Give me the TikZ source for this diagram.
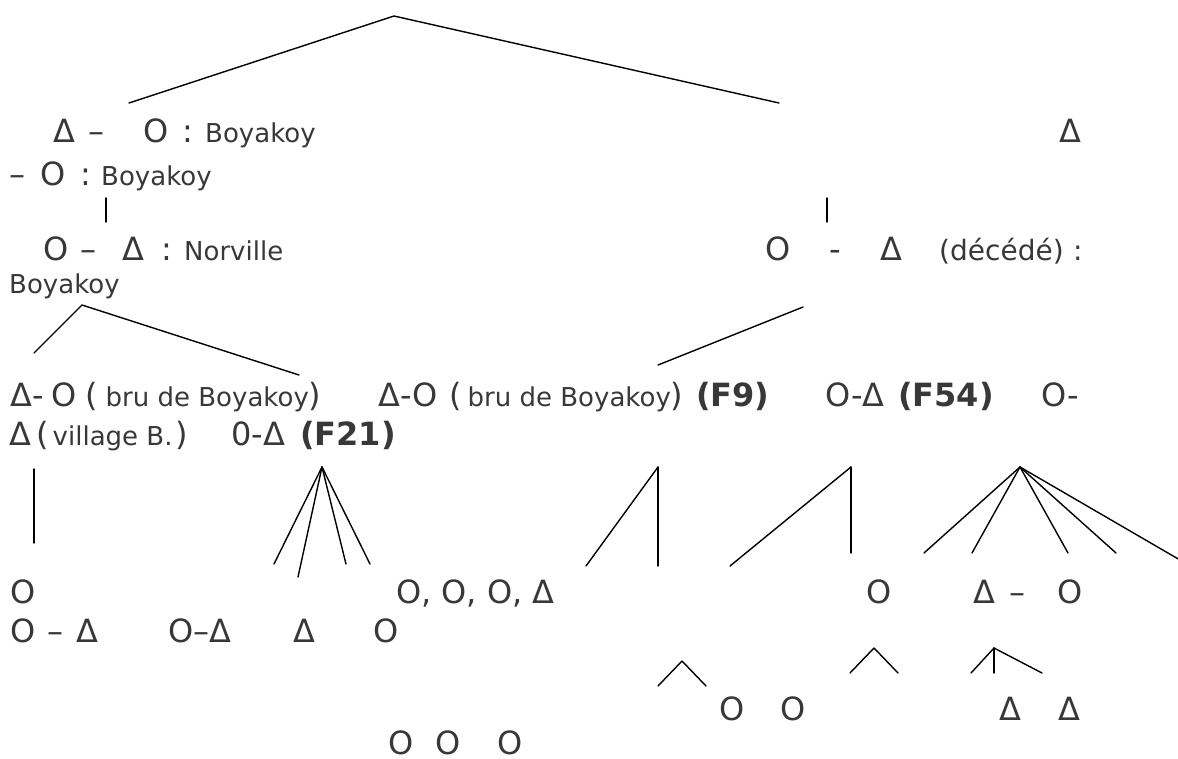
\documentclass[tikz,border=0pt]{standalone}
\usepackage{fontspec}
\setmainfont{DejaVu Sans}
\definecolor{ink}{HTML}{383838}
\newcommand\smtxt[1]{{\fontsize{26}{31}\selectfont #1}}
\tikzset{
  lg/.style={anchor=base west, inner sep=0pt, text=ink, font=\fontsize{32}{38}\selectfont},
  sm/.style={lg, font=\fontsize{26}{31}\selectfont},
  md/.style={lg, font=\fontsize{28}{33}\selectfont},
  bd/.style={lg, font=\fontsize{32}{38}\selectfont\bfseries},
  link/.style={line width=1.4pt, black, line cap=round},
}
\begin{document}
\begin{tikzpicture}[x=1pt,y=-1pt]
\useasboundingbox (0,0) rectangle (1178,758);

% ---- first generation
\node[lg] (a1) at (53,142) {Δ};
\node[lg] (a2) at (88,142) {–};
\node[lg] (a3) at (143,142) {O};
\node[lg] (a4) at (182,142) {:};
\node[sm] (a5) at (205,142) {Boyakoy};
\node[lg] (a6) at (1059,142) {Δ};
\node[lg] (b1) at (9,185) {–};
\node[lg] (b2) at (40,185) {O};
\node[lg] (b3) at (80,185) {:};
\node[sm] (b4) at (101,185) {Boyakoy};

% ---- second generation
\node[lg] (c1) at (43,260) {O};
\node[lg] (c2) at (80,260) {–};
\node[lg] (c3) at (122,260) {Δ};
\node[lg] (c4) at (161,260) {:};
\node[sm] (c5) at (184,260) {Norville};
\node[lg] (c6) at (765,260) {O};
\node[lg] (c7) at (829,260) {-};
\node[lg] (c8) at (880,260) {Δ};
\node[md] (c9) at (939,260) {(décédé)};
\node[md] (c10) at (1073,260) {:};
\node[sm] (d1) at (9,293) {Boyakoy};

% ---- third generation
\node[lg] (e1) at (10,406) {Δ-};
\node[lg] (e2) at (51,406) {O};
\node[lg] (e3) at (85,406) {(\hspace{8pt}\smtxt{bru de Boyakoy})};
\node[lg] (e6) at (378,406) {Δ-O};
\node[lg] (e7) at (449,406) {(\hspace{6pt}\smtxt{bru de Boyakoy})};
\node[bd] (e10) at (696,406) {(F9)};
\node[lg] (e11) at (825,406) {O-Δ};
\node[bd] (e12) at (898,406) {(F54)};
\node[lg] (e13) at (1041,406) {O-};
\node[lg] (f1) at (9,445) {Δ};
\node[lg] (f2) at (36,445) {(\hspace{4pt}\smtxt{village B.}\hspace{3pt})};
\node[lg] (f5) at (231,445) {0-Δ};
\node[bd] (f6) at (300,445) {(F21)};

% ---- fourth generation
\node[lg] (g1) at (10,603) {O};
\node[lg] (g2) at (396,603) {O, O, O, Δ};
\node[lg] (g3) at (866,603) {O};
\node[lg] (g4) at (973,603) {Δ};
\node[lg] (g5) at (1009,603) {–};
\node[lg] (g6) at (1057,603) {O};
\node[lg] (h1) at (10,642) {O};
\node[lg] (h2) at (47,642) {–};
\node[lg] (h3) at (76,642) {Δ};
\node[lg] (h4) at (168,642) {O–Δ};
\node[lg] (h5) at (293,642) {Δ};
\node[lg] (h6) at (373,642) {O};

% ---- fifth generation
\node[lg] (i1) at (719,720) {O};
\node[lg] (i2) at (780,720) {O};
\node[lg] (i3) at (999,720) {Δ};
\node[lg] (i4) at (1058,720) {Δ};
\node[lg] (j1) at (388,754) {O};
\node[lg] (j2) at (435,754) {O};
\node[lg] (j3) at (497,754) {O};

% ---- branch points
\coordinate (top) at (394,16);
\coordinate (topL) at (129,103);
\coordinate (topR) at (779,103);
\coordinate (v1t) at (106,198);
\coordinate (v1b) at (106,222);
\coordinate (v2t) at (827,198);
\coordinate (v2b) at (827,222);
\coordinate (pa) at (82,305);
\coordinate (pa1) at (34,353);
\coordinate (pa2) at (299,375);
\coordinate (pb) at (803,307);
\coordinate (pb1) at (658,365);
\coordinate (v3t) at (34,469);
\coordinate (v3b) at (34,543);
\coordinate (q1) at (322,467);
\coordinate (q1a) at (274,564);
\coordinate (q1b) at (298,577);
\coordinate (q1c) at (346,564);
\coordinate (q1d) at (370,564);
\coordinate (q2) at (658,467);
\coordinate (q2a) at (586,566);
\coordinate (q2b) at (658,566);
\coordinate (q3) at (851,467);
\coordinate (q3a) at (730,566);
\coordinate (q3b) at (851,553);
\coordinate (q4) at (1020,467);
\coordinate (q4a) at (924,553);
\coordinate (q4b) at (972,553);
\coordinate (q4c) at (1068,553);
\coordinate (q4d) at (1116,553);
\coordinate (q4e) at (1180,560);
\coordinate (s1) at (682,661);
\coordinate (s1a) at (658,686);
\coordinate (s1b) at (706,686);
\coordinate (s2) at (874,648);
\coordinate (s2a) at (850,673);
\coordinate (s2b) at (898,673);
\coordinate (s3) at (994,648);
\coordinate (s3a) at (971,673);
\coordinate (s3b) at (994,673);
\coordinate (s3c) at (1042,673);

% ---- connectors
\draw[link] (topL) -- (top) -- (topR);
\draw[link] (v1t) -- (v1b);
\draw[link] (v2t) -- (v2b);
\draw[link] (pa1) -- (pa) -- (pa2);
\draw[link] (pb) -- (pb1);
\draw[link] (v3t) -- (v3b);
\foreach \e in {q1a,q1b,q1c,q1d} \draw[link] (q1) -- (\e);
\foreach \e in {q2a,q2b} \draw[link] (q2) -- (\e);
\foreach \e in {q3a,q3b} \draw[link] (q3) -- (\e);
\foreach \e in {q4a,q4b,q4c,q4d,q4e} \draw[link] (q4) -- (\e);
\foreach \e in {s1a,s1b} \draw[link] (s1) -- (\e);
\foreach \e in {s2a,s2b} \draw[link] (s2) -- (\e);
\foreach \e in {s3a,s3b,s3c} \draw[link] (s3) -- (\e);
\end{tikzpicture}
\end{document}
